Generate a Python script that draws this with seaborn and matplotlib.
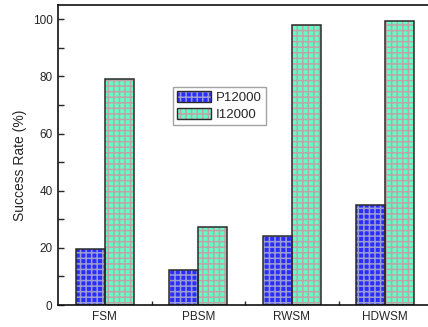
import matplotlib
matplotlib.use("Agg")
import matplotlib.pyplot as plt
from matplotlib.patches import Patch, Rectangle
from matplotlib.legend_handler import HandlerTuple
from matplotlib.ticker import MultipleLocator, FixedLocator, NullFormatter
import seaborn as sns
import pandas as pd

methods = ["FSM", "PBSM", "RWSM", "HDWSM"]
p12000 = [19.5, 12.2, 24.1, 35.0]
i12000 = [79.0, 27.3, 98.0, 99.3]
series = ["P12000", "I12000"]

fill_colors = {"P12000": "#2a2dff", "I12000": "#62ffc6"}
grid_colors = {"P12000": "#9c9cd2", "I12000": "#bfa3a6"}
outline_color = "#2a2a2a"

df = pd.DataFrame({
    "method": methods * 2,
    "series": [series[0]] * 4 + [series[1]] * 4,
    "rate": p12000 + i12000,
})

sns.set_style("ticks")
plt.rcParams["font.family"] = ["Liberation Sans", "DejaVu Sans"]
plt.rcParams["hatch.linewidth"] = 1.1

fig = plt.figure(figsize=(4.28, 3.27), dpi=100)
ax = fig.add_axes([58 / 428, 22 / 327, 374 / 428, 300 / 327])

sns.barplot(data=df, x="method", y="rate", hue="series", order=methods,
            hue_order=series, palette=fill_colors, width=0.62,
            saturation=1, errorbar=None, legend=False, ax=ax)

# grid-hatched bars, then a dark outline drawn on top of each
for container, name in zip(ax.containers, series):
    for bar in container:
        bar.set_edgecolor(grid_colors[name])
        bar.set_linewidth(0)
        bar.set_hatch("+++")
        outline = Rectangle(bar.get_xy(), bar.get_width(), bar.get_height(),
                            fill=False, edgecolor=outline_color, linewidth=1.1,
                            zorder=bar.get_zorder() + 0.1)
        ax.add_patch(outline)

ax.set_xlim(-0.5, 3.5)
ax.set_ylim(0, 105)
ax.yaxis.set_major_locator(MultipleLocator(20))
ax.yaxis.set_minor_locator(MultipleLocator(10))
ax.xaxis.set_minor_locator(FixedLocator([0.5, 1.5, 2.5]))
ax.xaxis.set_minor_formatter(NullFormatter())
ax.tick_params(axis="y", which="major", direction="in", length=4, width=1,
               labelsize=8.5, pad=4)
ax.tick_params(axis="y", which="minor", direction="in", length=4, width=1)
ax.tick_params(axis="x", which="major", length=0, labelsize=8.5, pad=4)
ax.tick_params(axis="x", which="minor", direction="in", length=3, width=1)

ax.set_xlabel("")
ax.set_ylabel("Success Rate (%)", fontsize=10)
ax.yaxis.set_label_coords(-0.082, 0.467)

for side in ["left", "bottom", "top"]:
    ax.spines[side].set_linewidth(1.2)
    ax.spines[side].set_color("#111111")
ax.spines["right"].set_visible(False)

handles = [(Patch(facecolor=fill_colors[s], edgecolor=grid_colors[s],
                  hatch="+++", linewidth=0),
            Patch(fill=False, edgecolor=outline_color, linewidth=1.0))
           for s in series]
leg = ax.legend(handles=handles, labels=series, loc="upper left",
                bbox_to_anchor=(0.307, 0.725), fontsize=9.5,
                handler_map={tuple: HandlerTuple(ndivide=1)},
                handlelength=2.6, handleheight=0.9, handletextpad=0.35,
                borderpad=0.3, borderaxespad=0, labelspacing=0.3,
                frameon=True, fancybox=False)
leg.get_frame().set_edgecolor("#8c8c8c")
leg.get_frame().set_linewidth(1.0)

fig.savefig("out.png", dpi=100)
